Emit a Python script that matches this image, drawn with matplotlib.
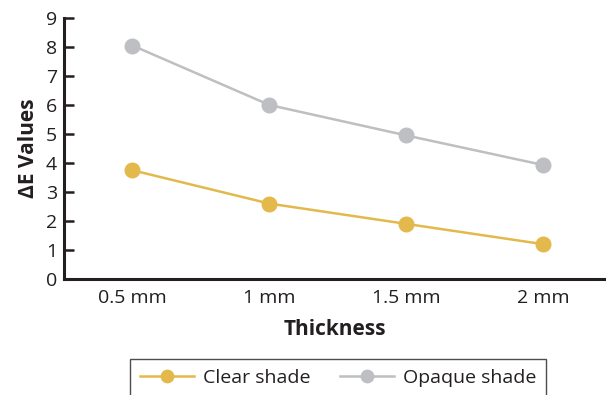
import numpy as np
import matplotlib.pyplot as plt

plt.rcParams['font.family'] = ['Open Sans', 'DejaVu Sans']

thickness = ["0.5 mm", "1 mm", "1.5 mm", "2 mm"]
clear_shade = [3.75, 2.6, 1.9, 1.2]
opaque_shade = [8.05, 6.0, 4.95, 3.93]

gold = "#E3B94C"
grey = "#BEBFC2"
dark = "#231F20"

fig = plt.figure(figsize=(6.06, 3.95), dpi=100)
axis = fig.add_axes([64 / 606, 1 - 279 / 395, 541 / 606, 261 / 395])

x = np.arange(len(thickness))
axis.plot(x, clear_shade, color=gold, lw=1.8, marker="o", markersize=10.5,
          label="Clear shade")
axis.plot(x, opaque_shade, color=grey, lw=1.8, marker="o", markersize=10.5,
          label="Opaque shade")

axis.set_xlim(-0.5, 3.45)
axis.set_ylim(0, 9)
axis.set_yticks(range(0, 10))
axis.set_xticks(x)
axis.set_xticklabels(thickness)

for side in ["top", "right"]:
    axis.spines[side].set_visible(False)
for side in ["left", "bottom"]:
    axis.spines[side].set_color(dark)
    axis.spines[side].set_linewidth(2.2)

axis.tick_params(axis="y", direction="in", length=7, width=1.8, color=dark,
                 labelsize=14, labelcolor=dark, pad=5)
axis.tick_params(axis="x", length=0, labelsize=14, labelcolor=dark, pad=7)

axis.set_xlabel("Thickness", fontsize=15, fontweight="bold", color=dark,
                labelpad=9)
axis.set_ylabel("ΔE Values", fontsize=15, fontweight="bold", color=dark,
                labelpad=5)

leg = fig.legend(loc="upper center", bbox_to_anchor=(338 / 606, 1 - 359 / 395),
                 ncol=2, fontsize=14, frameon=True, fancybox=False,
                 handlelength=2.8, columnspacing=1.5, borderpad=0.5,
                 handletextpad=0.45, borderaxespad=0, markerscale=0.85)
leg.get_frame().set_edgecolor(dark)
leg.get_frame().set_linewidth(1.0)
for t in leg.get_texts():
    t.set_color(dark)

fig.savefig("out.png", dpi=100)
